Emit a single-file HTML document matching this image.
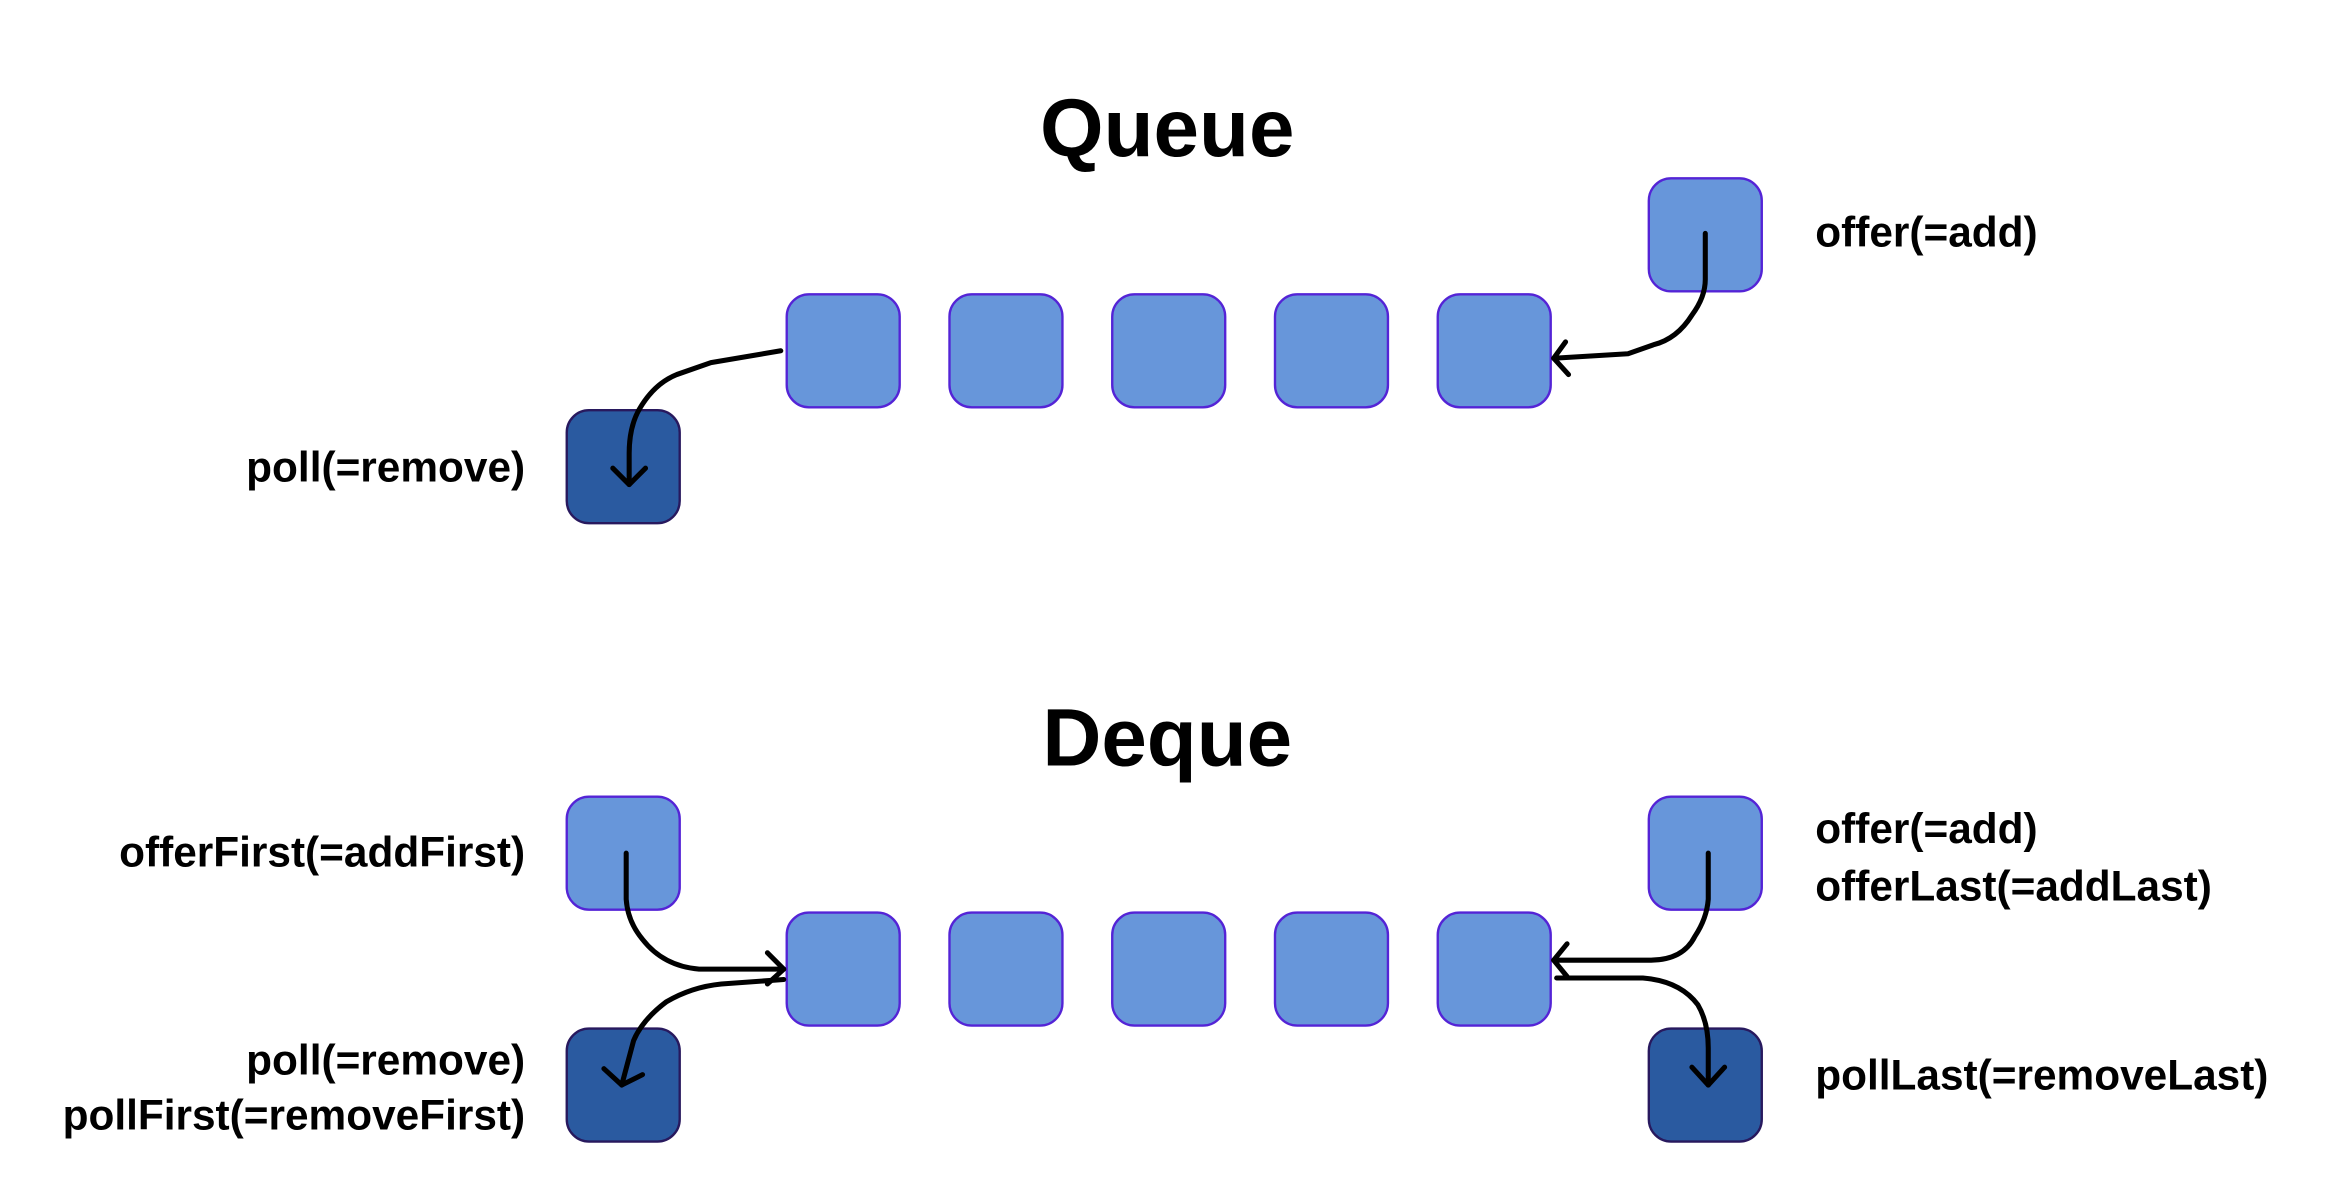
<!DOCTYPE html>
<html><head><style>html,body{margin:0;padding:0;background:#fff;}svg{display:block}</style></head>
<body>
<svg width="2330" height="1198" viewBox="0 0 1567 806" xmlns="http://www.w3.org/2000/svg" font-family="Liberation Sans, sans-serif" font-weight="bold">
<defs>
<style>.l{fill:#6796da;stroke:#5424d6;stroke-width:1.6}.d{fill:#2a5aa0;stroke:#28195e;stroke-width:1.6}.a{fill:none;stroke:#000;stroke-width:3.4;stroke-linecap:round;stroke-linejoin:round}</style>
</defs>
<text x="785" y="105" font-size="55" text-anchor="middle">Queue</text>
<text x="785" y="515" font-size="55" text-anchor="middle">Deque</text>
<g font-size="28.5">
<text x="1221" y="166">offer(=add)</text>
<text x="353" y="324" text-anchor="end">poll(=remove)</text>
<text x="353" y="583" text-anchor="end">offerFirst(=addFirst)</text>
<text x="1221" y="567">offer(=add)</text>
<text x="1221" y="606">offerLast(=addLast)</text>
<text x="353" y="723" text-anchor="end">poll(=remove)</text>
<text x="353" y="760" text-anchor="end">pollFirst(=removeFirst)</text>
<text x="1221" y="733">pollLast(=removeLast)</text>
</g>
<!-- queue -->
<rect class="l" x="1109" y="120" width="76" height="76" rx="15"/>
<rect class="d" x="381" y="276" width="76" height="76" rx="15"/>
<rect class="l" x="529" y="198" width="76" height="76" rx="15"/>
<rect class="l" x="638.5" y="198" width="76" height="76" rx="15"/>
<rect class="l" x="748" y="198" width="76" height="76" rx="15"/>
<rect class="l" x="857.5" y="198" width="76" height="76" rx="15"/>
<rect class="l" x="967" y="198" width="76" height="76" rx="15"/>
<path class="a" d="M1147 157 V188 Q1147 200 1138 212 Q1128 228 1112 232 L1095 238 L1045 241"/>
<path class="a" d="M1053 230 L1045 241 L1055 252"/>
<path class="a" d="M525 236 L478 244 L455 252 Q440 258 430 275 Q423 287 423 305 V326"/>
<path class="a" d="M412 315 L423 326 L434 315"/>
<!-- deque -->
<rect class="l" x="381" y="536" width="76" height="76" rx="15"/>
<rect class="l" x="1109" y="536" width="76" height="76" rx="15"/>
<rect class="d" x="381" y="692" width="76" height="76" rx="15"/>
<rect class="d" x="1109" y="692" width="76" height="76" rx="15"/>
<rect class="l" x="529" y="614" width="76" height="76" rx="15"/>
<rect class="l" x="638.5" y="614" width="76" height="76" rx="15"/>
<rect class="l" x="748" y="614" width="76" height="76" rx="15"/>
<rect class="l" x="857.5" y="614" width="76" height="76" rx="15"/>
<rect class="l" x="967" y="614" width="76" height="76" rx="15"/>
<path class="a" d="M421 574 V605 Q422 620 432 632 Q446 650 470 652 L527 652"/>
<path class="a" d="M516 641 L527 652 L516 662"/>
<path class="a" d="M527 659 L485 662 Q465 664 448 674 Q432 686 426 700 L418 730"/>
<path class="a" d="M406 719 L418 730 L432 723"/>
<path class="a" d="M1149 574 V605 Q1148 618 1140 630 Q1132 646 1110 646 L1045 646"/>
<path class="a" d="M1054 635 L1045 646 L1054 657"/>
<path class="a" d="M1047 658 L1105 658 Q1130 660 1142 676 Q1149 688 1149 705 V730"/>
<path class="a" d="M1138 718 L1149 730 L1160 718"/>
</svg>
</body></html>
